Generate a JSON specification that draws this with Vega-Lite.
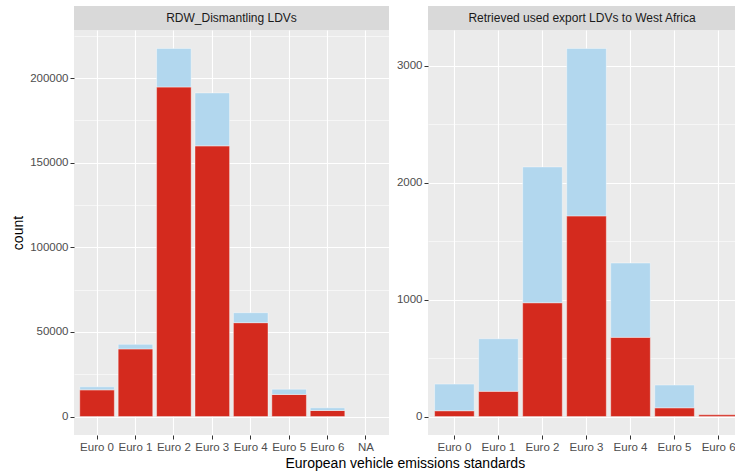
{
  "$schema": "https://vega.github.io/schema/vega-lite/v6.json",
  "padding": {"left": 11, "top": 6, "right": 0, "bottom": 4},
  "background": "white",
  "title": {
    "text": "European vehicle emissions standards",
    "orient": "bottom",
    "anchor": "middle",
    "fontSize": 14,
    "fontWeight": "normal",
    "color": "black",
    "offset": 4,
    "dx": 27
  },
  "datasets": {
    "rdw": [
      {"standard": "Euro 0", "segment": "subset", "count": 15800},
      {"standard": "Euro 0", "segment": "remainder", "count": 1800},
      {"standard": "Euro 1", "segment": "subset", "count": 40000},
      {"standard": "Euro 1", "segment": "remainder", "count": 2700},
      {"standard": "Euro 2", "segment": "subset", "count": 194800},
      {"standard": "Euro 2", "segment": "remainder", "count": 22800},
      {"standard": "Euro 3", "segment": "subset", "count": 160000},
      {"standard": "Euro 3", "segment": "remainder", "count": 31300},
      {"standard": "Euro 4", "segment": "subset", "count": 55500},
      {"standard": "Euro 4", "segment": "remainder", "count": 5900},
      {"standard": "Euro 5", "segment": "subset", "count": 13100},
      {"standard": "Euro 5", "segment": "remainder", "count": 3100},
      {"standard": "Euro 6", "segment": "subset", "count": 3600},
      {"standard": "Euro 6", "segment": "remainder", "count": 1600}
    ],
    "export": [
      {"standard": "Euro 0", "segment": "subset", "count": 50},
      {"standard": "Euro 0", "segment": "remainder", "count": 228},
      {"standard": "Euro 1", "segment": "subset", "count": 216},
      {"standard": "Euro 1", "segment": "remainder", "count": 450},
      {"standard": "Euro 2", "segment": "subset", "count": 974},
      {"standard": "Euro 2", "segment": "remainder", "count": 1162},
      {"standard": "Euro 3", "segment": "subset", "count": 1717},
      {"standard": "Euro 3", "segment": "remainder", "count": 1433},
      {"standard": "Euro 4", "segment": "subset", "count": 678},
      {"standard": "Euro 4", "segment": "remainder", "count": 636},
      {"standard": "Euro 5", "segment": "subset", "count": 75},
      {"standard": "Euro 5", "segment": "remainder", "count": 195},
      {"standard": "Euro 6", "segment": "subset", "count": 15}
    ]
  },
  "spacing": 7,
  "hconcat": [
    {
      "spacing": 0,
      "vconcat": [
        {
          "width": 315,
          "height": 24,
          "view": {"fill": "#D9D9D9", "stroke": null},
          "data": {"values": [{"panel": "RDW_Dismantling LDVs"}]},
          "mark": {"type": "text", "fontSize": 12, "color": "#1A1A1A", "baseline": "middle", "align": "center"},
          "encoding": {"text": {"field": "panel"}}
        },
        {
          "width": 315,
          "height": 405,
          "view": {"fill": "#EBEBEB", "stroke": null},
          "data": {"name": "rdw"},
          "mark": {"type": "bar", "stroke": "white", "strokeWidth": 0.4},
          "encoding": {
            "x": {
              "field": "standard",
              "type": "nominal",
              "scale": {
                "domain": ["Euro 0", "Euro 1", "Euro 2", "Euro 3", "Euro 4", "Euro 5", "Euro 6", "NA"],
                "paddingInner": 0.1,
                "paddingOuter": 0.15
              },
              "axis": {"title": null, "labelAngle": 0, "grid": true, "gridWidth": 1.1}
            },
            "y": {
              "field": "count",
              "type": "quantitative",
              "aggregate": "sum",
              "stack": "zero",
              "title": "count",
              "scale": {"domain": [-10880, 228480], "nice": false, "zero": false},
              "axis": {
                "values": [0, 25000, 50000, 75000, 100000, 125000, 150000, 175000, 200000, 225000],
                "labelExpr": "datum.value % 50000 === 0 ? format(datum.value, 'd') : ''",
                "tickOpacity": {"condition": {"test": "datum.value % 50000 === 0", "value": 1}, "value": 0},
                "gridWidth": {"condition": {"test": "datum.value % 50000 === 0", "value": 1.1}, "value": 0.55},
                "titlePadding": 4
              }
            },
            "color": {
              "field": "segment",
              "type": "nominal",
              "legend": null,
              "scale": {"domain": ["subset", "remainder"], "range": ["#D42A1E", "#B2D7EE"]}
            },
            "order": {"field": "segment", "sort": "descending"}
          }
        }
      ]
    },
    {
      "spacing": 0,
      "vconcat": [
        {
          "width": 308,
          "height": 24,
          "view": {"fill": "#D9D9D9", "stroke": null},
          "data": {"values": [{"panel": "Retrieved used export LDVs to West Africa"}]},
          "mark": {"type": "text", "fontSize": 12, "color": "#1A1A1A", "baseline": "middle", "align": "center"},
          "encoding": {"text": {"field": "panel"}}
        },
        {
          "width": 308,
          "height": 405,
          "view": {"fill": "#EBEBEB", "stroke": null},
          "data": {"name": "export"},
          "mark": {"type": "bar", "stroke": "white", "strokeWidth": 0.4, "clip": true},
          "encoding": {
            "x": {
              "field": "standard",
              "type": "nominal",
              "scale": {
                "domain": ["Euro 0", "Euro 1", "Euro 2", "Euro 3", "Euro 4", "Euro 5", "Euro 6"],
                "range": [0, 317],
                "paddingInner": 0.1,
                "paddingOuter": 0.15
              },
              "axis": {"title": null, "labelAngle": 0, "grid": true, "gridWidth": 1.1}
            },
            "y": {
              "field": "count",
              "type": "quantitative",
              "aggregate": "sum",
              "stack": "zero",
              "title": null,
              "scale": {"domain": [-157.5, 3307.5], "nice": false, "zero": false},
              "axis": {
                "values": [0, 500, 1000, 1500, 2000, 2500, 3000],
                "labelExpr": "datum.value % 1000 === 0 ? format(datum.value, 'd') : ''",
                "tickOpacity": {"condition": {"test": "datum.value % 1000 === 0", "value": 1}, "value": 0},
                "gridWidth": {"condition": {"test": "datum.value % 1000 === 0", "value": 1.1}, "value": 0.55}
              }
            },
            "color": {
              "field": "segment",
              "type": "nominal",
              "legend": null,
              "scale": {"domain": ["subset", "remainder"], "range": ["#D42A1E", "#B2D7EE"]}
            },
            "order": {"field": "segment", "sort": "descending"}
          }
        }
      ]
    }
  ],
  "config": {
    "font": "Liberation Sans",
    "view": {"stroke": null},
    "axis": {
      "domain": false,
      "ticks": true,
      "tickColor": "#333333",
      "tickSize": 4,
      "labelColor": "#4D4D4D",
      "labelFontSize": 11.5,
      "labelPadding": 2,
      "gridColor": "#FFFFFF",
      "titleFontWeight": "normal",
      "titleColor": "#000000",
      "titleFontSize": 14
    }
  }
}
